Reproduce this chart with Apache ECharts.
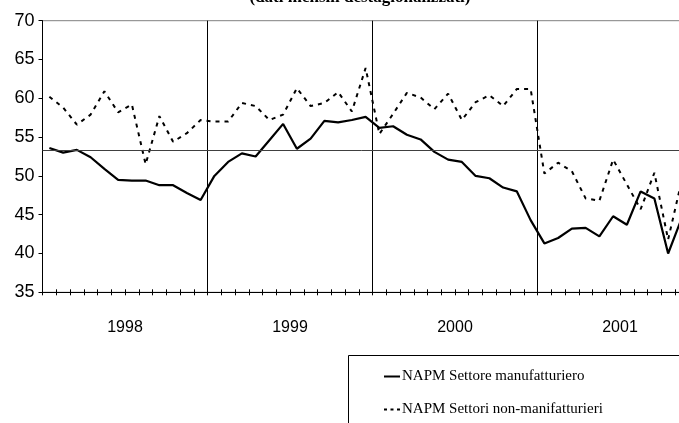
<!DOCTYPE html>
<html>
<head>
<meta charset="utf-8">
<script src="https://cdn.jsdelivr.net/npm/echarts@6/dist/echarts.min.js"></script>
<style>
html,body{margin:0;padding:0;background:#fff;}
#chart{width:679px;height:423px;}
</style>
</head>
<body>
<div id="chart"></div>
<script>
// ---- data ----
const years = ['1998', '1999', '2000', '2001'];
const months = ['01','02','03','04','05','06','07','08','09','10','11','12'];
const seriesNames = ['NAPM Settore manufatturiero', 'NAPM Settori non-manifatturieri'];
const manufacturing = [
  53.6, 53.0, 53.35, 52.4, 50.9, 49.5, 49.4, 49.4, 48.8, 48.8, 47.8, 46.9,
  50.0, 51.8, 52.9, 52.5, 54.6, 56.7, 53.5, 54.8, 57.1, 56.9, 57.2, 57.6,
  56.2, 56.4, 55.3, 54.7, 53.1, 52.1, 51.8, 50.0, 49.7, 48.5, 48.0, 44.3,
  41.3, 42.0, 43.2, 43.3, 42.2, 44.8, 43.7, 48.0, 47.1, 40.0, 44.6
];
const nonManufacturing = [
  60.2, 58.8, 56.6, 57.9, 60.9, 58.2, 59.2, 51.5, 57.7, 54.4, 55.5, 57.2,
  57.0, 57.0, 59.4, 59.0, 57.2, 57.9, 61.3, 59.0, 59.4, 60.8, 58.3, 63.9,
  55.4, 58.0, 60.7, 60.1, 58.6, 60.6, 57.2, 59.5, 60.4, 59.0, 61.2, 61.2,
  50.3, 51.7, 50.6, 47.1, 46.8, 52.1, 48.9, 45.7, 50.4, 41.8, 49.5
];
const refLevel = [53.3];
const yTicks = { min: 35, max: 70, interval: 5 };
const titleText = '(dati mensili destagionalizzati)';

// ---- build ----
const categories = [];
years.forEach(y => months.forEach(m => categories.push(y + '-' + m)));

const chart = echarts.init(document.getElementById('chart'), null, {renderer: 'canvas'});
const axisFont = 'Liberation Sans';
chart.setOption({
  animation: false,
  backgroundColor: '#fff',
  grid: {
    left: 42.5, top: 20.7, width: 660, height: 271.6,
    outerBoundsMode: 'none', containLabel: false,
    show: true, borderColor: '#808080', borderWidth: 1, backgroundColor: 'transparent'
  },
  graphic: [
    {
      type: 'text', x: 360, y: 6,
      style: {
        text: titleText, fill: '#000', textAlign: 'center', textVerticalAlign: 'bottom',
        font: 'bold 17px "Liberation Serif"'
      }
    },
    {
      type: 'rect', shape: { x: 348.5, y: 355.5, width: 400, height: 120 },
      style: { fill: 'none', stroke: '#000', lineWidth: 1 }, z: 0
    }
  ],
  legend: {
    data: [
      { name: seriesNames[0], icon: 'path://M0,0H16V2H0Z' },
      { name: seriesNames[1], icon: 'path://M0,0H3V2H0ZM6.5,0H9.5V2H6.5ZM13,0H16V2H13Z' }
    ],
    orient: 'vertical',
    left: 348, top: 355,
    padding: [14, 0, 0, 36],
    itemGap: 18,
    itemWidth: 16, itemHeight: 14,
    itemStyle: { color: '#000' },
    textStyle: { fontFamily: 'Liberation Serif', fontSize: 15, color: '#000', padding: [0, 0, 0, -3] },
    selectedMode: false
  },
  xAxis: [
    {
      type: 'category', data: categories, boundaryGap: true, position: 'bottom',
      axisLine: { show: true, lineStyle: { color: '#000', width: 1 } },
      axisTick: { show: true, interval: 0, length: 3, lineStyle: { color: '#000' } },
      axisLabel: { show: false }, splitLine: { show: false }
    },
    {
      type: 'category', data: categories, boundaryGap: true, position: 'bottom',
      axisLine: { show: false },
      axisTick: { show: true, inside: true, interval: 0, length: 3, lineStyle: { color: '#000' } },
      axisLabel: { show: false }, splitLine: { show: false }
    },
    {
      type: 'category', data: years, boundaryGap: true, position: 'bottom',
      axisLine: { show: false }, axisTick: { show: false },
      axisLabel: { show: true, margin: 27, fontFamily: axisFont, fontSize: 16, color: '#000' },
      splitLine: { show: true, interval: 0, lineStyle: { color: '#000', width: 1 } }
    }
  ],
  yAxis: {
    type: 'value', min: yTicks.min, max: yTicks.max, interval: yTicks.interval,
    axisLine: { show: true, lineStyle: { color: '#000', width: 1 } },
    axisTick: { show: true, length: 4, lineStyle: { color: '#000' } },
    axisLabel: { margin: 8, fontFamily: axisFont, fontSize: 18, color: '#000' },
    splitLine: { show: false }
  },
  series: [
    {
      name: seriesNames[0], type: 'line', xAxisIndex: 0, data: manufacturing,
      symbol: 'none', lineStyle: { color: '#000', width: 2.2, type: 'solid' },
      itemStyle: { color: '#000' },
      markLine: {
        silent: true, symbol: 'none', label: { show: false },
        lineStyle: { color: '#404040', width: 1, type: 'solid' },
        data: refLevel.map(v => ({ yAxis: v }))
      }
    },
    {
      name: seriesNames[1], type: 'line', xAxisIndex: 0, data: nonManufacturing,
      symbol: 'none', lineStyle: { color: '#000', width: 2, type: [4, 5] },
      itemStyle: { color: '#000' }
    }
  ]
});
</script>
</body>
</html>
